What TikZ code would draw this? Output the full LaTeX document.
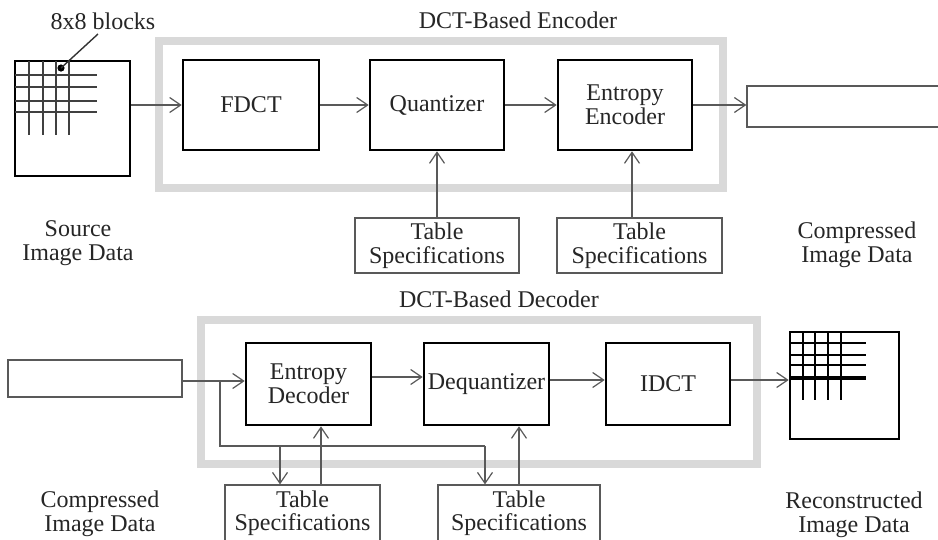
\documentclass[tikz,border=0pt]{standalone}
\usepackage{fontspec}
\setmainfont{Liberation Serif}
\usetikzlibrary{arrows.meta}
\begin{document}
\begin{tikzpicture}[x=1pt,y=-1pt,
  every node/.style={font=\fontsize{24}{23.5}\selectfont, inner sep=0pt, text=black!85},
  block/.style={draw=black, line width=2.6pt, fill=white, align=center},
  thinbox/.style={draw=black!65, line width=1.2pt, fill=white, align=center},
  label/.style={align=center},
  frame/.style={draw=black!15, line width=8pt},
  conn/.style={draw=black!65, line width=1.2pt},
  arr/.style={conn, -{Straight Barb[length=11pt,width=15pt,line width=1.2pt]}},
  grid/.style={draw=black!75, line width=1.6pt},
  rgrid/.style={draw=black, line width=2.6pt}
]
\useasboundingbox (0,0) rectangle (938,539);
\fill[white] (0,0) rectangle (938,539);

% ---------------- encoder ----------------
\node[frame, minimum width=564pt, minimum height=147pt] (encframe) at (441,114.5) {};
\node (enctitle) at (518,20) {DCT-Based Encoder};

% source image with its 8x8 block grid
\node[block, minimum width=115pt, minimum height=115pt] (src) at (72.5,118.5) {};
\foreach \x in {29,43,56,69} \draw[grid] (\x,61) -- (\x,135);
\foreach \y in {75,87,101,112} \draw[grid] (15,\y) -- (97,\y);
\coordinate (dot) at (61,68);
\fill[black] (dot) circle (3.6pt);
\node (blocks) at (103,21) {8x8 blocks};
\coordinate (lead) at (98,34);
\draw[black!80, line width=1.4pt] (dot) -- (lead);

\node[block, minimum width=136pt, minimum height=90pt] (fdct) at (251,105) {FDCT};
\node[block, minimum width=134pt, minimum height=90pt] (quant) at (437,105) {Quantizer};
\node[block, minimum width=134pt, minimum height=90pt] (enc) at (625,105) {Entropy\\Encoder};
\node[thinbox, minimum width=200pt, minimum height=41pt] (outbox) at (847,106.5) {};

\node[thinbox, minimum width=164pt, minimum height=55pt] (tabA) at (437,245.5) {Table\\Specifications};
\node[thinbox, minimum width=165pt, minimum height=55pt] (tabB) at (639.5,245.5) {Table\\Specifications};

\node[label] (srclbl) at (78,243) {Source\\Image Data};
\node[label] (cmplbl) at (857,245) {Compressed\\Image Data};

\draw[arr] (src.east |- fdct.west) -- (fdct.west);
\draw[arr] (fdct) -- (quant);
\draw[arr] (quant) -- (enc);
\draw[arr] (enc.east) -- (enc.east -| outbox.west);
\draw[arr] (tabA.north) -- (quant.south);
\draw[arr] ([xshift=-7.5pt]tabB.north) -- ([xshift=-7.5pt]tabB.north |- enc.south);

% ---------------- decoder ----------------
\node[frame, minimum width=556pt, minimum height=144pt] (decframe) at (479,392) {};
\node (dectitle) at (499,299) {DCT-Based Decoder};

\node[thinbox, minimum width=174pt, minimum height=37pt] (inbox) at (95,378.5) {};
\node[block, minimum width=125pt, minimum height=82pt] (decent) at (308.5,384) {Entropy\\Decoder};
\node[block, minimum width=125pt, minimum height=82pt] (deq) at (486.5,384) {Dequantizer};
\node[block, minimum width=124pt, minimum height=82pt] (idct) at (668,384) {IDCT};

% reconstructed image with its block grid
\node[block, minimum width=109pt, minimum height=107pt] (recon) at (844.5,385.5) {};
\foreach \x in {803,815,828,841} \draw[rgrid] (\x,332) -- (\x,400);
\foreach \y/\w in {343/2.6,355/1.2,365/2.6,378/3.4} \draw[draw=black, line width=\w pt] (790,\y) -- (866,\y);

\node[thinbox, minimum width=155pt, minimum height=56pt] (tab1) at (302.5,513) {Table\\Specifications};
\node[thinbox, minimum width=162pt, minimum height=56pt] (tab2) at (519,513) {Table\\Specifications};

\node[label] (inlbl) at (100,514) {Compressed\\Image Data};
\node[label] (reclbl) at (854,515) {Reconstructed\\Image Data};

% input path and its branch to both table specifications
\draw[arr] ([yshift=-2.5pt]inbox.east) -- ([yshift=-2.5pt]inbox.east -| decent.west);
\coordinate (split) at (220,381);
\coordinate (bend) at (220,446);
\coordinate (drop1) at (280,446);
\coordinate (drop2) at (485,446);
\draw[conn] (split) -- (bend) -- (drop2);
\draw[arr] (drop1) -- (drop1 |- tab1.north);
\draw[arr] (drop2) -- (drop2 |- tab2.north);
\draw[arr] ([xshift=18.5pt]tab1.north) -- ([xshift=18.5pt]tab1.north |- decent.south);
\draw[arr] (tab2.north) -- (tab2.north |- deq.south);

\draw[arr] (decent.east |- 0,377) -- (deq.west |- 0,377);
\draw[arr] (deq.east |- 0,380) -- (idct.west |- 0,380);
\draw[arr] (idct.east |- 0,380) -- (recon.west |- 0,380);
\end{tikzpicture}
\end{document}
